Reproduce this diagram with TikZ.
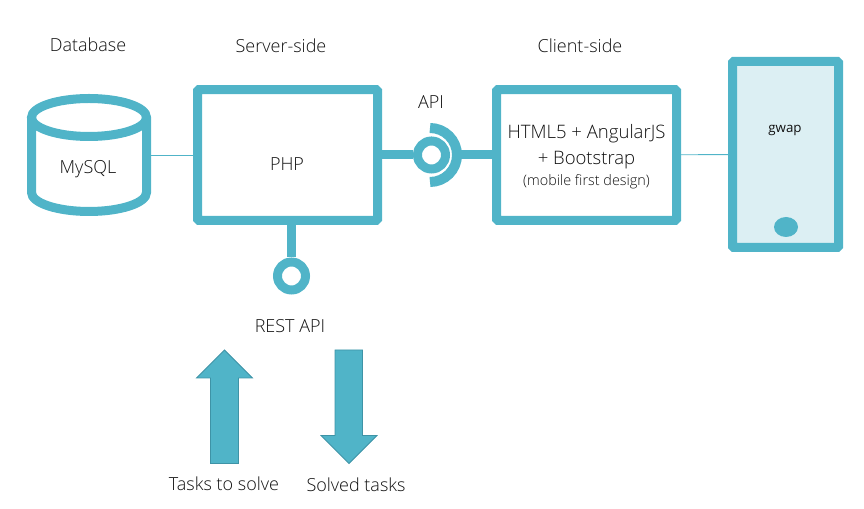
\documentclass[tikz,border=0pt]{standalone}
\usepackage{fontspec}
\setmainfont{Open Sans Light}
\newfontfamily\gwapfont{Open Sans}
\usetikzlibrary{shapes.geometric}
\definecolor{gwapTeal}{HTML}{50B4C8}
\definecolor{gwapEdge}{HTML}{3E93A6}
\definecolor{gwapPale}{HTML}{DCEFF3}
\definecolor{gwapText}{HTML}{111111}

\begin{document}
\begin{tikzpicture}[
        % Environment Config: one unit is one pixel of the page
        x=0.75pt,y=-0.75pt,
        font=\fontsize{13.5}{16}\selectfont,
        text=gwapText,
        BoxStyle/.style={% Style for the two tiers
          draw=gwapTeal,
          line width=6.75pt,
          rounded corners=1pt,
          minimum width=135pt,
          minimum height=98pt,
          align=center
        },
        Thin/.style={% Style for the plain wires
          gwapTeal,
          line width=0.7pt
        },
        Thick/.style={% Style for the interface wires
          gwapTeal,
          line width=6.75pt
        },
        Ball/.style={% Style for the interface circles
          draw=gwapTeal,
          circle,
          fill=white,
          line width=6.75pt,
          minimum size=21pt,
          inner sep=0pt
        },
        BlockArrow/.style={% Style for the task arrows
          draw=gwapEdge,
          fill=gwapTeal,
          line width=0.6pt
        }
      ]

      \useasboundingbox (0,0) rectangle (864,509);

      % Put the tiers in position
      \node[minimum width=93pt,minimum height=91pt,inner sep=0pt] (DB) at (89,155) {};
      \node[BoxStyle] (PHP) at (287.5,155) {};
      \node[BoxStyle] (Client) at (586.5,155) {};
      \node[
          draw=gwapTeal,
          fill=gwapPale,
          line width=6.75pt,
          rounded corners=1pt,
          minimum width=79.5pt,
          minimum height=139.5pt
      ] (Phone) at (785.5,154.5) {};
      \node[fill=gwapTeal,ellipse,minimum width=18pt,minimum height=15pt,inner sep=0pt]
          (Button) at (786,227) {};

      %===Database drum===
      \draw[gwapTeal,line width=6.75pt]
      (89,117.5) ellipse (57.5 and 19)
      (31.5,117.5) -- (31.5,192.5)
          arc (180:0:57.5 and 19)
          -- (146.5,117.5);

      % Put the interfaces in position
      \node[Ball] (APIball) at (431.5,155) {};
      \node[Ball] (RESTball) at (291.5,276) {};
      \coordinate (APIsocket) at (461,155);

      % Draw the Wires
      \draw[Thin] (DB) -- (PHP);
      \draw[Thin] (Client) -- (Phone);
      \draw[Thick] (PHP) -- (APIball);
      \draw[Thick] (APIsocket) -- (Client);
      \draw[Thick] (PHP.south -| RESTball) -- (RESTball);

      %===API socket===
      \draw[gwapTeal,line width=7.5pt]
      (APIsocket)
          ++(-31,-27) coordinate (temp)
          ++(0,0) arc (-90:90:27);

      % Labels
      \node (DBtitle) at (88,45) {Database};
      \node (PHPtitle) at (281,46) {Server-side};
      \node (Clienttitle) at (580,46) {Client-side};
      \node (APItitle) at (431,102) {API};
      \node (DBtext) at (88,169) {MySQL};
      \node (PHPtext) at (287,164) {PHP};
      \node[align=center,font=\fontsize{13.9}{19.5}\selectfont] (Clienttext) at (586.5,156.5) {%
            HTML5 + AngularJS\\
            + Bootstrap\\[-4pt]
            {\fontsize{10.8}{12}\selectfont (mobile first design)}};
      \node[font=\fontsize{10}{12}\selectfont\gwapfont] (Phonetext) at (785,130) {gwap};
      \node (RESTtitle) at (290,326) {REST API};
      \node (UpText) at (224,484) {Tasks to solve};
      \node (DownText) at (356,485) {Solved tasks};

      % Draw the task arrows
      %===Up===
      \draw[BlockArrow]
      (224.5,350) -- (252.5,378) -- (238.5,378) -- (238.5,463.5)
          -- (210.5,463.5) -- (210.5,378) -- (196.5,378) -- cycle;

      %===Down===
      \draw[BlockArrow]
      (349,463.5) -- (377,435.5) -- (362.5,435.5) -- (362.5,350)
          -- (335,350) -- (335,435.5) -- (321,435.5) -- cycle;

      \end{tikzpicture}
\end{document}
